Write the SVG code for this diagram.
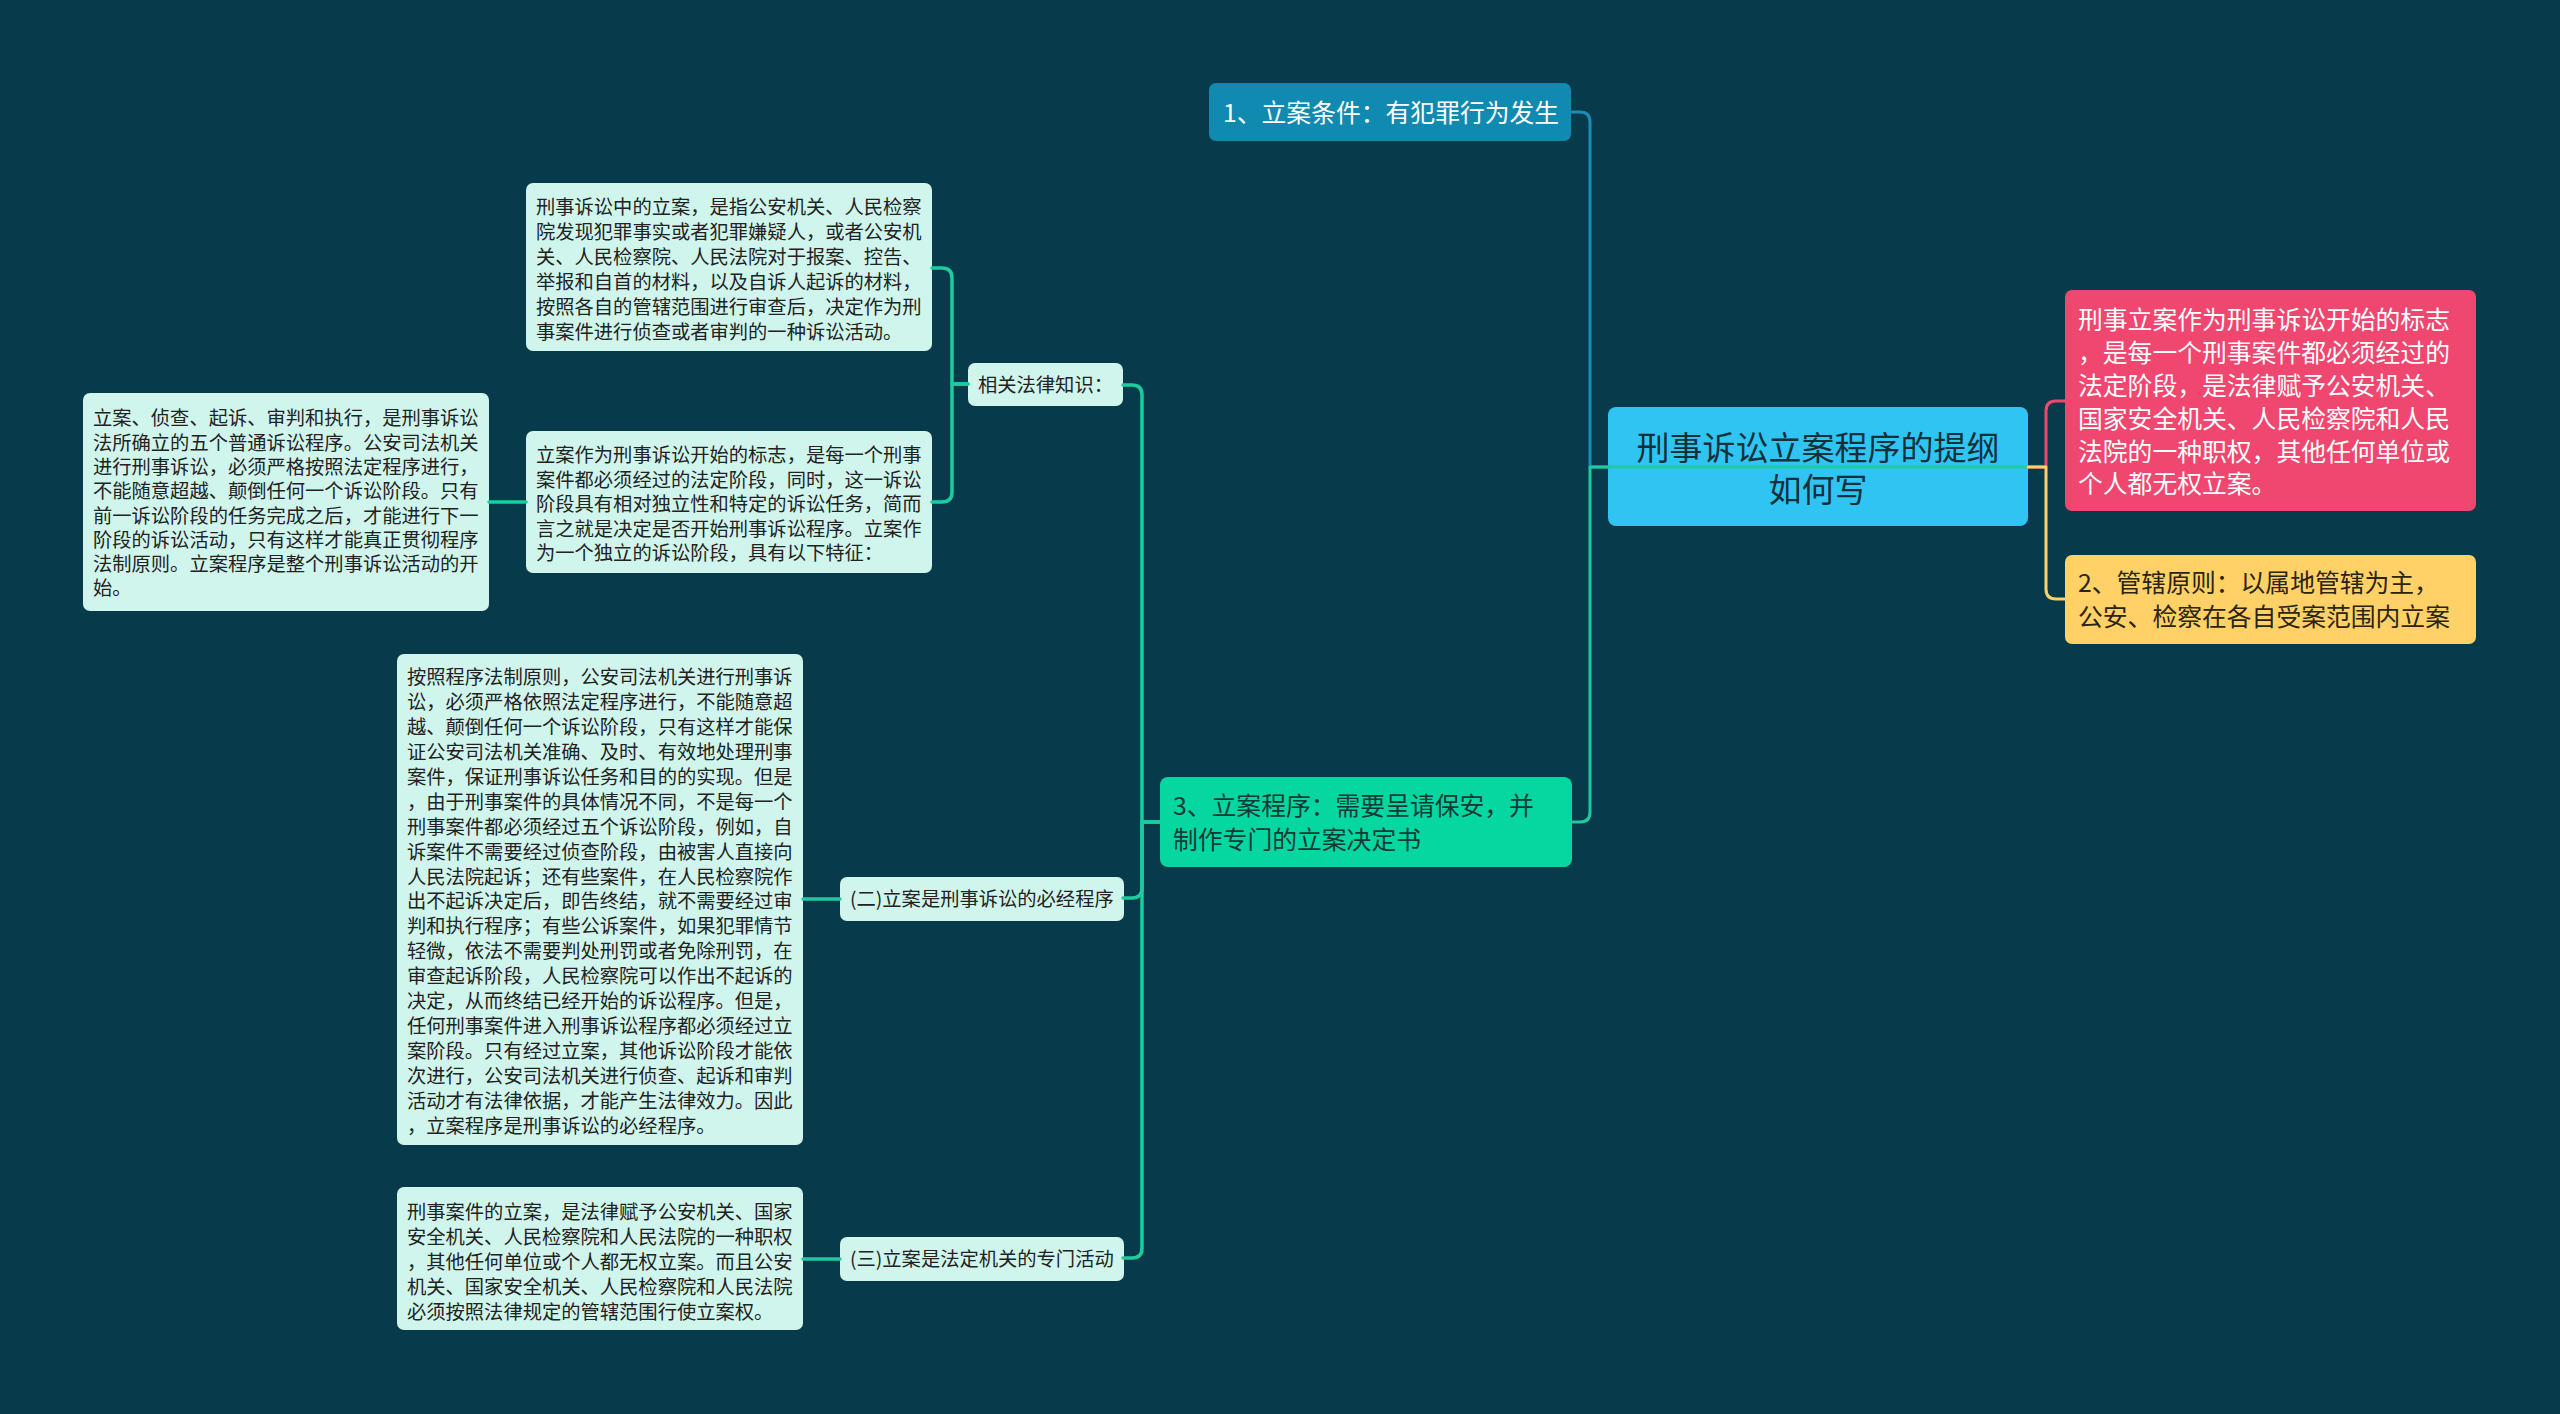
<svg xmlns="http://www.w3.org/2000/svg" width="2560" height="1414" viewBox="0 0 2560 1414">
<style>
.t{font-family:"Noto Sans CJK SC","Noto Sans",sans-serif}
.s{font-size:19.3px;fill:#222}
.m{font-size:24.8px}
.light{fill:#d0f5ec}
.c{fill:none;stroke-linecap:round;stroke-linejoin:round}
</style>
<rect x="0" y="0" width="2560" height="1414" fill="#073b4c"/>

<g id="root">
<rect x="1608" y="407" width="420" height="119" rx="8" fill="#2fc4f1"/>
<text class="t" font-size="33" fill="#12303c" text-anchor="middle"><tspan x="1818" y="459.5">刑事诉讼立案程序的提纲</tspan><tspan x="1818" y="501.5">如何写</tspan></text>
</g>

<g id="node1">
<rect x="1209" y="83" width="362" height="58" rx="7" fill="#118ab2"/>
<text class="t m" fill="#ffffff" x="1223" y="122.4">1、立案条件：有犯罪行为发生</text>
</g>

<g id="node3">
<rect x="1160" y="777" width="412" height="90" rx="8" fill="#06d6a0"/>
<text class="t m" fill="#0d3b36"><tspan x="1173" y="815.4">3、立案程序：需要呈请保安，并</tspan><tspan x="1173" y="849.4">制作专门的立案决定书</tspan></text>
</g>

<g id="pink">
<rect x="2065" y="290" width="411" height="221" rx="7" fill="#ef476f"/>
<text class="t m" fill="#ffffff"><tspan x="2078" y="329.4">刑事立案作为刑事诉讼开始的标志</tspan><tspan x="2078" y="362.2">，是每一个刑事案件都必须经过的</tspan><tspan x="2078" y="395">法定阶段，是法律赋予公安机关、</tspan><tspan x="2078" y="427.8">国家安全机关、人民检察院和人民</tspan><tspan x="2078" y="460.6">法院的一种职权，其他任何单位或</tspan><tspan x="2078" y="493.4">个人都无权立案。</tspan></text>
</g>

<g id="yellow">
<rect x="2065" y="555" width="411" height="89" rx="7" fill="#ffd166"/>
<text class="t m" fill="#2a2410"><tspan x="2078" y="592.4">2、管辖原则：以属地管辖为主，</tspan><tspan x="2078" y="626.4">公安、检察在各自受案范围内立案</tspan></text>
</g>

<g id="law">
<rect class="light" x="968" y="363" width="155" height="43" rx="7"/>
<text class="t s" x="978" y="392.3">相关法律知识：</text>
</g>

<g id="nodeA">
<rect class="light" x="526" y="183" width="406" height="168" rx="7"/>
<text class="t s"><tspan x="536" y="214.3">刑事诉讼中的立案，是指公安机关、人民检察</tspan><tspan x="536" y="239.3">院发现犯罪事实或者犯罪嫌疑人，或者公安机</tspan><tspan x="536" y="264.3">关、人民检察院、人民法院对于报案、控告、</tspan><tspan x="536" y="289.3">举报和自首的材料，以及自诉人起诉的材料，</tspan><tspan x="536" y="314.3">按照各自的管辖范围进行审查后，决定作为刑</tspan><tspan x="536" y="339.3">事案件进行侦查或者审判的一种诉讼活动。</tspan></text>
</g>

<g id="nodeB">
<rect class="light" x="526" y="431" width="406" height="142" rx="7"/>
<text class="t s"><tspan x="536" y="462.3">立案作为刑事诉讼开始的标志，是每一个刑事</tspan><tspan x="536" y="486.8">案件都必须经过的法定阶段，同时，这一诉讼</tspan><tspan x="536" y="511.3">阶段具有相对独立性和特定的诉讼任务，简而</tspan><tspan x="536" y="535.8">言之就是决定是否开始刑事诉讼程序。立案作</tspan><tspan x="536" y="560.3">为一个独立的诉讼阶段，具有以下特征：</tspan></text>
</g>

<g id="nodeC">
<rect class="light" x="83" y="393" width="406" height="218" rx="7"/>
<text class="t s"><tspan x="93" y="425.3">立案、侦查、起诉、审判和执行，是刑事诉讼</tspan><tspan x="93" y="449.6">法所确立的五个普通诉讼程序。公安司法机关</tspan><tspan x="93" y="473.9">进行刑事诉讼，必须严格按照法定程序进行，</tspan><tspan x="93" y="498.2">不能随意超越、颠倒任何一个诉讼阶段。只有</tspan><tspan x="93" y="522.5">前一诉讼阶段的任务完成之后，才能进行下一</tspan><tspan x="93" y="546.8">阶段的诉讼活动，只有这样才能真正贯彻程序</tspan><tspan x="93" y="571.1">法制原则。立案程序是整个刑事诉讼活动的开</tspan><tspan x="93" y="595.4">始。</tspan></text>
</g>

<g id="nodeD">
<rect class="light" x="840" y="877" width="284" height="44" rx="7"/>
<text class="t s" x="850" y="906.3">(二)立案是刑事诉讼的必经程序</text>
</g>

<g id="nodeE">
<rect class="light" x="397" y="654" width="406" height="491" rx="7"/>
<text class="t s"><tspan x="407" y="684.3">按照程序法制原则，公安司法机关进行刑事诉</tspan><tspan x="407" y="709.2">讼，必须严格依照法定程序进行，不能随意超</tspan><tspan x="407" y="734.1">越、颠倒任何一个诉讼阶段，只有这样才能保</tspan><tspan x="407" y="759">证公安司法机关准确、及时、有效地处理刑事</tspan><tspan x="407" y="783.9">案件，保证刑事诉讼任务和目的的实现。但是</tspan><tspan x="407" y="808.8">，由于刑事案件的具体情况不同，不是每一个</tspan><tspan x="407" y="833.7">刑事案件都必须经过五个诉讼阶段，例如，自</tspan><tspan x="407" y="858.6">诉案件不需要经过侦查阶段，由被害人直接向</tspan><tspan x="407" y="883.5">人民法院起诉；还有些案件，在人民检察院作</tspan><tspan x="407" y="908.4">出不起诉决定后，即告终结，就不需要经过审</tspan><tspan x="407" y="933.3">判和执行程序；有些公诉案件，如果犯罪情节</tspan><tspan x="407" y="958.2">轻微，依法不需要判处刑罚或者免除刑罚，在</tspan><tspan x="407" y="983.1">审查起诉阶段，人民检察院可以作出不起诉的</tspan><tspan x="407" y="1008">决定，从而终结已经开始的诉讼程序。但是，</tspan><tspan x="407" y="1032.9">任何刑事案件进入刑事诉讼程序都必须经过立</tspan><tspan x="407" y="1057.8">案阶段。只有经过立案，其他诉讼阶段才能依</tspan><tspan x="407" y="1082.7">次进行，公安司法机关进行侦查、起诉和审判</tspan><tspan x="407" y="1107.6">活动才有法律依据，才能产生法律效力。因此</tspan><tspan x="407" y="1132.5">，立案程序是刑事诉讼的必经程序。</tspan></text>
</g>

<g id="nodeF">
<rect class="light" x="840" y="1237" width="284" height="44" rx="7"/>
<text class="t s" x="850" y="1266.3">(三)立案是法定机关的专门活动</text>
</g>

<g id="nodeG">
<rect class="light" x="397" y="1187" width="406" height="143" rx="7"/>
<text class="t s"><tspan x="407" y="1219.3">刑事案件的立案，是法律赋予公安机关、国家</tspan><tspan x="407" y="1244.3">安全机关、人民检察院和人民法院的一种职权</tspan><tspan x="407" y="1269.3">，其他任何单位或个人都无权立案。而且公安</tspan><tspan x="407" y="1294.3">机关、国家安全机关、人民检察院和人民法院</tspan><tspan x="407" y="1319.3">必须按照法律规定的管辖范围行使立案权。</tspan></text>
</g>

<g id="connectors">
<path class="c" stroke="#1a8db5" stroke-width="3" d="M1608,467 H1590 V122 Q1590,112 1580,112 H1572"/>
<path class="c" stroke="#1ccc9f" stroke-width="3" d="M2028,467 H1590 V812 Q1590,822 1580,822 H1572"/>
<path class="c" stroke="#ef476f" stroke-width="3" d="M2028,467 H2046 V411 Q2046,401 2056,401 H2065"/>
<path class="c" stroke="#ffd166" stroke-width="3" d="M2028,467 H2046 V589 Q2046,599 2056,599 H2065"/>
<path class="c" stroke="#1ccc9f" stroke-width="3.5" d="M1160,822 H1142 V395 Q1142,385 1132,385 H1123"/>
<path class="c" stroke="#1ccc9f" stroke-width="3.5" d="M1160,822 H1142 V888 Q1142,898 1132,898 H1123"/>
<path class="c" stroke="#1ccc9f" stroke-width="3.5" d="M1160,822 H1142 V1248 Q1142,1258 1132,1258 H1123"/>
<path class="c" stroke="#1ccc9f" stroke-width="3.5" d="M968,384 H952 V278 Q952,268 942,268 H932"/>
<path class="c" stroke="#1ccc9f" stroke-width="3.5" d="M968,384 H952 V492 Q952,502 942,502 H932"/>
<path class="c" stroke="#1ccc9f" stroke-width="3.5" d="M526,502 H489"/>
<path class="c" stroke="#1ccc9f" stroke-width="3.5" d="M840,899 H803"/>
<path class="c" stroke="#1ccc9f" stroke-width="3.5" d="M840,1259 H803"/>
</g>
</svg>
